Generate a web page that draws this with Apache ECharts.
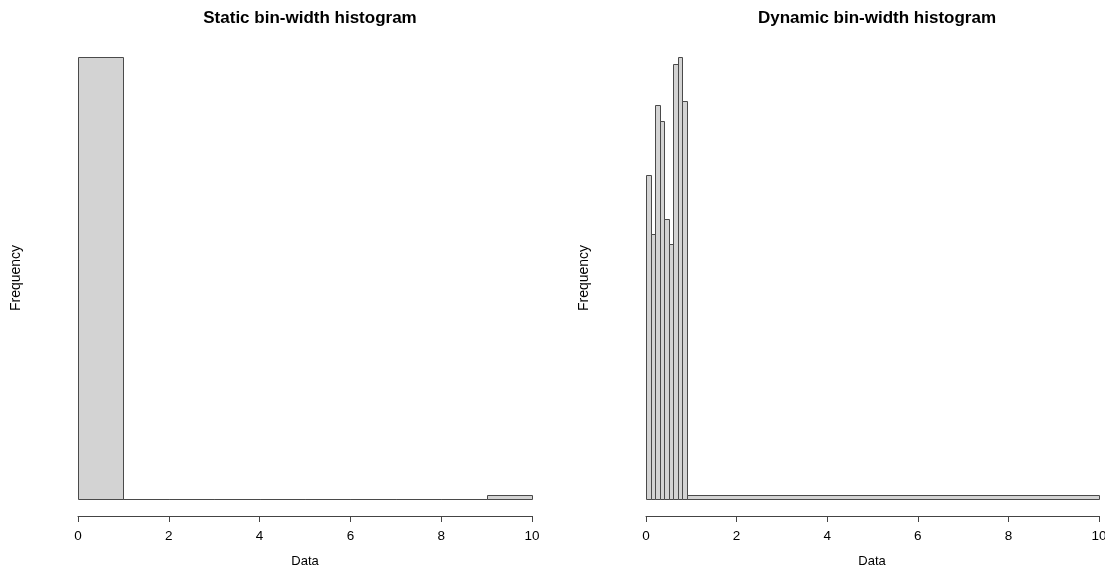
<!DOCTYPE html>
<html>
<head>
<meta charset="utf-8">
<script src="https://cdn.jsdelivr.net/npm/echarts@6/dist/echarts.min.js"></script>
<style>html,body{margin:0;padding:0;background:#fff}#c{width:1105px;height:570px}</style>
</head>
<body>
<div id="c"></div>
<script>
// Static bin-width histogram: bin edges and heights
var staticBreaks = [0, 1, 2, 3, 4, 5, 6, 7, 8, 9, 10];
var staticValues = [0.99, 0, 0, 0, 0, 0, 0, 0, 0, 0.009];
// Dynamic bin-width histogram: bin edges and heights
var dynamicBreaks = [0, 0.1, 0.2, 0.3, 0.4, 0.5, 0.6, 0.7, 0.8, 0.9, 10];
var dynamicValues = [0.953, 0.779, 1.158, 1.112, 0.823, 0.750, 1.280, 1.300, 1.172, 0.0118];
var xTicks = [0, 2, 4, 6, 8, 10];

function toBins(breaks, values) {
  var out = [];
  for (var i = 0; i < values.length; i++) out.push([breaks[i], breaks[i + 1], values[i]]);
  return out;
}
function renderItem(params, api) {
  var p0 = api.coord([api.value(0), api.value(2)]);
  var p1 = api.coord([api.value(1), 0]);
  var x0 = Math.round(p0[0]) + 0.5, x1 = Math.round(p1[0]) + 0.5;
  var y0 = Math.round(p0[1]) + 0.5, y1 = Math.round(p1[1]) + 0.5;
  return {
    type: 'rect',
    shape: { x: x0, y: y0, width: x1 - x0, height: y1 - y0 },
    style: { fill: '#d3d3d3', stroke: '#4a4a4a', lineWidth: 1 }
  };
}
var font = 'Liberation Sans, Arial, sans-serif';
var plotTop = 57, baseY = 499, axisY = 516;
function xAxis(idx) {
  return {
    gridIndex: idx, type: 'value', min: xTicks[0], max: xTicks[xTicks.length - 1], interval: 2,
    position: 'bottom',
    axisLine: { show: true, onZero: false, lineStyle: { color: '#444', width: 1 } },
    axisTick: { show: true, length: 6, lineStyle: { color: '#444' } },
    axisLabel: { color: '#000', fontSize: 13.5, fontFamily: font, margin: 13 },
    splitLine: { show: false }
  };
}
function yAxis(idx, vals) {
  var mx = Math.max.apply(null, vals);
  // extend below zero so the axis line sits under the baseline, as in R
  return { gridIndex: idx, type: 'value', min: -mx * (axisY - baseY) / (baseY - plotTop), max: mx,
           show: false, splitLine: { show: false } };
}
var chart = echarts.init(document.getElementById('c'), null, { renderer: 'canvas' });
chart.setOption({
  animation: false,
  backgroundColor: '#fff',
  title: [
    { text: 'Static bin-width histogram', left: 305, top: 5, textAlign: 'center',
      textStyle: { fontSize: 17, fontWeight: 'bold', color: '#000', fontFamily: font } },
    { text: 'Dynamic bin-width histogram', left: 872, top: 5, textAlign: 'center',
      textStyle: { fontSize: 17, fontWeight: 'bold', color: '#000', fontFamily: font } }
  ],
  grid: [
    { left: 78, width: 454, top: plotTop, height: axisY - plotTop, outerBoundsMode: 'none', containLabel: false },
    { left: 646, width: 453, top: plotTop, height: axisY - plotTop, outerBoundsMode: 'none', containLabel: false }
  ],
  xAxis: [xAxis(0), xAxis(1)],
  yAxis: [yAxis(0, staticValues), yAxis(1, dynamicValues)],
  graphic: [
    { type: 'text', x: 16, y: 278, rotation: Math.PI / 2,
      style: { text: 'Frequency', fill: '#000', font: '14px ' + font, textAlign: 'center', textVerticalAlign: 'middle' } },
    { type: 'text', x: 584, y: 278, rotation: Math.PI / 2,
      style: { text: 'Frequency', fill: '#000', font: '14px ' + font, textAlign: 'center', textVerticalAlign: 'middle' } },
    { type: 'text', x: 305, y: 561,
      style: { text: 'Data', fill: '#000', font: '13px ' + font, textAlign: 'center', textVerticalAlign: 'middle' } },
    { type: 'text', x: 872, y: 561,
      style: { text: 'Data', fill: '#000', font: '13px ' + font, textAlign: 'center', textVerticalAlign: 'middle' } }
  ],
  series: [
    { type: 'custom', xAxisIndex: 0, yAxisIndex: 0, renderItem: renderItem, data: toBins(staticBreaks, staticValues), clip: false },
    { type: 'custom', xAxisIndex: 1, yAxisIndex: 1, renderItem: renderItem, data: toBins(dynamicBreaks, dynamicValues), clip: false }
  ]
});
</script>
</body>
</html>
